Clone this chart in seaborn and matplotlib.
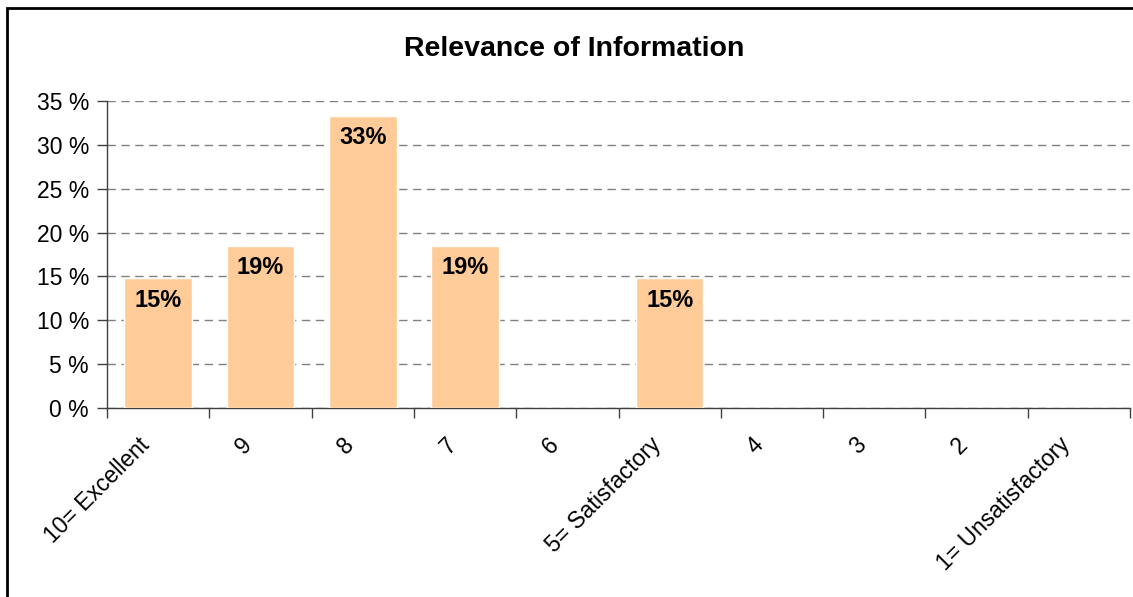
import matplotlib
matplotlib.use("Agg")
import matplotlib.pyplot as plt
import matplotlib.transforms as mtransforms
import seaborn as sns
import pandas as pd
import numpy as np
from matplotlib.patches import Rectangle
from matplotlib.ticker import FixedLocator, MultipleLocator

categories = ["10= Excellent", "9", "8", "7", "6", "5= Satisfactory", "4", "3", "2", "1= Unsatisfactory"]
values = [14.8, 18.5, 33.3, 18.5, 0, 14.8, 0, 0, 0, 0]
labels = ["15%", "19%", "33%", "19%", "", "15%", "", "", "", ""]
title = "Relevance of Information"

sns.set_theme(style="white")
plt.rcParams['font.family'] = ['Liberation Sans', 'DejaVu Sans']
plt.rcParams['text.color'] = 'black'
plt.rcParams['xtick.color'] = 'black'
plt.rcParams['ytick.color'] = 'black'

fig = plt.figure(figsize=(11.33, 5.97), dpi=100)
ax = fig.add_axes([107/1133, 1 - 408/597, (1130-107)/1133, (408-101)/597])

df = pd.DataFrame({"cat": categories, "val": values})
sns.barplot(data=df, x="cat", y="val", color="#FFCC99", saturation=1, width=0.66, ax=ax, zorder=3)

ax.set_ylim(0, 35)
ax.set_xlim(-0.5, len(categories) - 0.5)
ax.yaxis.set_major_locator(MultipleLocator(5))
ax.set_yticklabels([f"{int(t)} %" for t in ax.get_yticks()], fontsize=16.5, color="black")
ax.grid(axis="y", color="#808080", linestyle=(0, (6, 4)), linewidth=1, zorder=0)
ax.set_axisbelow(True)
ax.set_xlabel("")
ax.set_ylabel("")

for s in ["top", "right"]:
    ax.spines[s].set_visible(False)
for s in ["left", "bottom"]:
    ax.spines[s].set_color("#404040")
    ax.spines[s].set_linewidth(1)

ax.tick_params(axis="y", which="major", direction="out", length=7, width=1, color="#404040", left=True, pad=6)
ax.set_xticks(range(len(categories)))
ax.set_xticklabels(categories, rotation=45, ha="right", va="center", rotation_mode="anchor", fontsize=16.5, color="black")
ax.tick_params(axis="x", which="major", length=0, pad=24)
offset = mtransforms.ScaledTranslation(-12/100, 0, fig.dpi_scale_trans)
for lbl in ax.get_xticklabels():
    lbl.set_transform(lbl.get_transform() + offset)
ax.xaxis.set_minor_locator(FixedLocator(np.arange(-0.5, len(categories), 1)))
ax.tick_params(axis="x", which="minor", direction="out", length=7, width=1, color="#404040", bottom=True)

for i, (v, lab) in enumerate(zip(values, labels)):
    if lab:
        ax.text(i, v - 2.5, lab, ha="center", va="center", fontsize=17, fontweight="bold", color="black", zorder=4)

fig.text(574/1133, 1 - 49/597, title, ha="center", va="center", fontsize=20.5, fontweight="bold", color="black")

fig.patches.append(Rectangle((7/1133, -0.05), 1.2, 1 - 8/597 + 0.05, transform=fig.transFigure,
                             fill=False, edgecolor="black", linewidth=2))

fig.savefig("out.png", dpi=100)
